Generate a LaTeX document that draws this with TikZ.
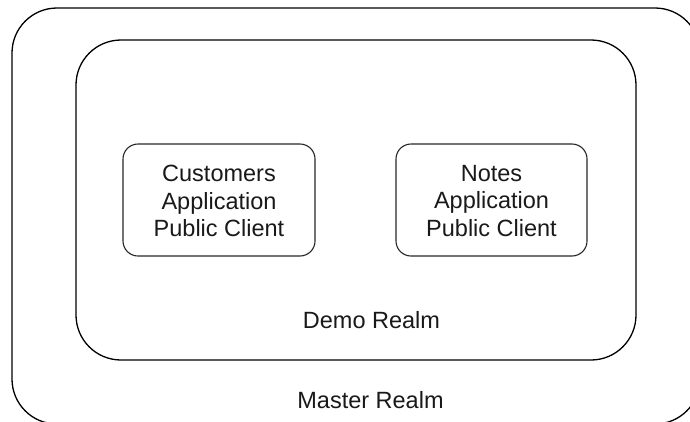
\documentclass[tikz,border=0pt]{standalone}
\usepackage{fontspec}
\setmainfont{Liberation Sans}
\begin{document}
\begin{tikzpicture}[x=1pt,y=-1pt,
  realm/.style={draw=black,line width=1.3pt,rounded corners=45pt},
  client/.style={draw=black!85,line width=1.1pt,rounded corners=15pt},
  lbl/.style={font=\fontsize{23.5}{27.5}\selectfont,text=black!90,inner sep=0pt,align=center}]
\useasboundingbox (0,0) rectangle (690,421);
\clip (0,0) rectangle (690,421);
\draw[realm] (12,8) rectangle (700,424);
\draw[realm] (76,40) rectangle (636,360);
\node[client,minimum width=192pt,minimum height=112pt] (cust) at (219,200) {};
\node[client,minimum width=191pt,minimum height=112pt] (notes) at (491.5,200) {};
\node[lbl] (custt) at (cust.center) [yshift=-1pt] {Customers\\Application\\Public Client};
\node[lbl] (notest) at (notes.center) [yshift=-1pt] {Notes\\Application\\Public Client};
\node[lbl,anchor=base] (demo) at (371.5,328) {Demo Realm};
\node[lbl,anchor=base] (master) at (370.5,408) {Master Realm};
\end{tikzpicture}
\end{document}
